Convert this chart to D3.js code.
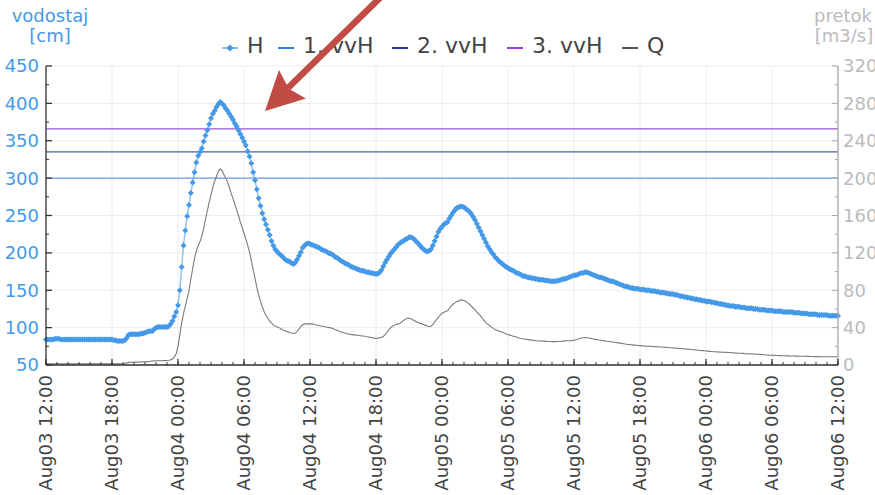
<!DOCTYPE html>
<html><head><meta charset="utf-8">
<script src="https://cdn.jsdelivr.net/npm/d3@7"></script>
<style>
html,body{margin:0;padding:0;background:#fff;}
svg{display:block;font-family:"DejaVu Sans",sans-serif;}
</style></head>
<body>
<svg id="chart" width="875" height="495"></svg>
<script>
// ---- data ----
const startTime = "2023-08-03T12:00";
const stepMinutes = 10;
const seriesNames = ["H", "1. vvH", "2. vvH", "3. vvH", "Q"];
const vvHLevels = [300, 335, 366];
const leftTicks = [50,100,150,200,250,300,350,400,450];
const rightTicks = [0,40,80,120,160,200,240,280,320];
const leftTitle = ["vodostaj", "[cm]"];
const rightTitle = ["pretok", "[m3/s]"];
// water level H [cm], every 10 min (one row = one hour)
const H = [
84,84,84,84,84,85, 85,85,84,84,84,84, 84,84,84,84,84,84, 84,84,84,84,84,84,
84,84,84,84,84,84, 84,84,84,84,84,84, 84,83,83,82,82,82, 82,83,86,90,91,91,
91,91,91,91,92,92, 93,94,95,95,95,98, 100,101,101,101,101,101, 101,102,105,109,115,121,
130,150,181,210,230,249, 264,280,294,308,321,330, 335,340,349,357,364,372, 380,386,390,395,399,402,
400,397,393,390,386,382, 378,373,369,364,359,354, 349,344,336,329,320,308, 297,285,273,263,253,245,
238,231,224,216,210,205, 202,199,197,195,192,190, 189,188,186,185,187,191, 196,201,207,210,212,213,
212,211,210,209,208,207, 205,204,203,202,200,199, 198,196,194,193,191,189, 188,186,185,184,182,181,
180,179,178,177,176,176, 175,174,174,173,173,172, 172,172,174,177,182,187, 191,195,199,202,205,208,
211,213,215,216,218,219, 221,221,220,218,215,213, 210,207,205,203,202,203, 205,210,216,222,228,232,
235,238,240,241,246,250, 254,257,260,261,262,262, 261,259,257,255,252,248, 244,239,234,229,224,219,
214,209,205,201,198,194, 192,189,187,185,183,181, 180,178,177,176,174,173, 172,171,169,169,168,167,
167,166,166,165,165,164, 164,164,163,163,163,162, 162,162,162,163,163,164, 165,165,166,167,168,169,
170,170,171,172,173,173, 174,174,173,172,171,170, 169,168,167,167,166,165, 164,163,162,162,161,160,
159,158,157,156,155,155, 154,153,153,152,152,152, 151,151,151,150,150,150, 149,149,149,148,148,147,
147,147,146,146,145,145, 145,144,144,143,142,142, 141,141,140,140,139,139, 138,138,137,137,136,136,
135,135,135,134,134,133, 133,132,132,131,131,130, 130,129,129,129,128,128, 128,127,127,127,126,126,
126,126,125,125,125,124, 124,124,124,123,123,123, 123,122,122,122,122,122, 121,121,121,121,121,121,
120,120,120,120,119,119, 119,119,118,118,118,118, 118,117,117,117,117,117, 117,116,116,116,116,116,
116];
// discharge Q [m3/s], every 10 min
const Q = [
1.2,1.2,1.2,1.2,1.2,1.2, 1.2,1.2,1.2,1.2,1.2,1.2, 1.2,1.2,1.2,1.2,1.2,1.2, 1.2,1.2,1.2,1.2,1.2,1.2,
1.2,1.2,1.2,1.2,1.2,1.2, 1.2,1.2,1.2,1.2,1.2,1.2, 1.2,1.2,1.2,1.2,1.2,1.2, 1.2,1.5,2.2,2.8,3.0,3.0,
3.0,3.1,3.1,3.2,3.3,3.4, 3.5,3.6,3.8,4.0,4.2,4.4, 4.5,4.6,4.6,4.6,4.7,4.7, 4.8,5.0,5.5,6.5,8.5,12,
20,32,45,55,63,71, 80,92,103,114,122,128, 132,138,146,156,165,174, 182,190,197,202,207,210,
208,204,200,196,190,184, 178,172,166,160,153,147, 141,135,128,121,112,102, 93,83,75,68,62,57,
53,50,47,45,43,41.5, 41,40,39,37.8,37,36, 35.5,34.8,34.2,33.9,34.2,36, 38.5,41,43,44,44,44,
44,44,43.8,43,42.6,42.2, 41.8,41.4,41,40.6,40.2,40, 39.4,38.6,37.8,37,36,35.4, 34.8,34.2,33.7,33.2,32.8,32.5,
32.2,32,31.8,31.5,31.2,31, 30.7,30.3,30,29.6,29.2,28.8, 28.5,28.6,29,29.6,30.5,32.5, 35,38,40,41.5,42.5,43.5,
44,44.8,46,47.5,49,50, 50.2,49.5,48.4,47.4,46.4,45.4, 44.6,44,43.2,42.4,41.8,41.2, 41.5,43.5,46,48.5,51,53.5,
55.5,56.5,57.3,58,60.5,63, 65,66.5,67.7,68.6,69.4,69.6, 69,68,66.5,65,63,61, 59,56.5,54.5,52.5,50,47.5,
45,43.5,42,40.5,39.2,38, 37.2,36.5,35.8,35,34.2,33.2, 32.6,32,31.4,30.8,30.2,29.6, 28.8,28.4,28.1,27.8,27.5,27.2,
26.9,26.6,26.4,26.1,26,25.8, 25.7,25.6,25.5,25.3,25.2,25.1, 25,25,25,25.1,25.2,25.4, 25.6,25.8,25.9,26,26.1,26.3,
26.6,27,27.6,28.3,28.9,29.2, 29.3,29.2,28.9,28.5,28.1,27.7, 27.4,27.1,26.8,26.5,26.1,25.8, 25.5,25.2,24.9,24.6,24.3,24,
23.7,23.4,23.1,22.8,22.4,22.1, 21.9,21.7,21.5,21.3,21.1,20.9, 20.7,20.5,20.3,20.2,20.1,20, 19.9,19.8,19.7,19.6,19.5,19.3,
19.2,19,18.9,18.7,18.5,18.4, 18.2,18.1,17.9,17.8,17.6,17.4, 17.3,17.1,17,16.8,16.6,16.4, 16.2,16,15.8,15.6,15.4,15.2,
15,14.8,14.6,14.4,14.2,14.1, 14,13.9,13.8,13.7,13.6,13.5, 13.4,13.3,13.1,13,12.9,12.7, 12.6,12.5,12.4,12.2,12.1,12,
11.9,11.8,11.7,11.6,11.5,11.4, 11.2,11,10.9,10.7,10.6,10.5, 10.4,10.3,10.2,10.1,10,10, 9.9,9.9,9.8,9.8,9.7,9.6,
9.6,9.5,9.5,9.4,9.4,9.3, 9.3,9.2,9.2,9.1,9.1,9, 9,9,8.9,8.9,8.9,8.9, 8.9,8.9,8.9,8.9,8.9,8.9,
8.9];

// ---- layout ----
const m = {left:46, right:838, top:66, bottom:365};
const colH = "#4499e8", colQ = "#7a7a7a";
const vvColors = ["#6f9be9", "#4d5fa8", "#9a55cf"];
const vvLegend = ["#3a7cee", "#2639a6", "#9b3be3"];

const t0 = d3.isoParse(startTime);
const times = H.map((_, i) => d3.timeMinute.offset(t0, i * stepMinutes));
const x = d3.scaleTime().domain([times[0], times[times.length-1]]).range([m.left, m.right]);
const yL = d3.scaleLinear().domain([50, 450]).range([m.bottom, m.top]);
const yR = d3.scaleLinear().domain([0, 320]).range([m.bottom, m.top]);

const svg = d3.select("#chart");

// grid
const g = svg.append("g");
const xMajor = x.ticks(d3.timeHour.every(6));
g.selectAll(".vg").data(xMajor).join("line")
  .attr("x1", d => x(d)).attr("x2", d => x(d)).attr("y1", m.top).attr("y2", m.bottom)
  .attr("stroke", "#ececec").attr("stroke-width", 1);
g.selectAll(".hg").data(leftTicks).join("line")
  .attr("x1", m.left).attr("x2", m.right).attr("y1", d => yL(d)).attr("y2", d => yL(d))
  .attr("stroke", "#ececec").attr("stroke-width", 1);

// threshold lines
vvHLevels.forEach((v, k) => {
  svg.append("line").attr("x1", m.left).attr("x2", m.right)
    .attr("y1", yL(v)).attr("y2", yL(v))
    .attr("stroke", vvColors[k]).attr("stroke-width", 1.3);
});

// Q line
svg.append("path").datum(Q)
  .attr("fill", "none").attr("stroke", colQ).attr("stroke-width", 1.1)
  .attr("d", d3.line().x((d, i) => x(times[i])).y(d => yR(d)));

// H line + markers
svg.append("path").datum(H)
  .attr("fill", "none").attr("stroke", colH).attr("stroke-opacity", 0.6).attr("stroke-width", 1.5)
  .attr("d", d3.line().x((d, i) => x(times[i])).y(d => yL(d)));
const dm = 3;
const diamond = `M0,${-dm}L${dm},0L0,${dm}L${-dm},0Z`;
svg.append("g").selectAll("path").data(H).join("path")
  .attr("d", diamond)
  .attr("transform", (d, i) => `translate(${x(times[i])},${yL(d)})`)
  .attr("fill", colH);

// axes
const axisCol = "#333";
// left
const la = svg.append("g");
la.append("line").attr("x1", m.left).attr("x2", m.left).attr("y1", m.top).attr("y2", m.bottom).attr("stroke", axisCol).attr("stroke-width", 1.3);
la.selectAll(".t").data(leftTicks).join("line")
  .attr("x1", m.left).attr("x2", m.left + 6).attr("y1", d => yL(d)).attr("y2", d => yL(d)).attr("stroke", axisCol).attr("stroke-width", 1.3);
la.selectAll(".mt").data(d3.range(75, 450, 50)).join("line")
  .attr("x1", m.left).attr("x2", m.left + 3).attr("y1", d => yL(d)).attr("y2", d => yL(d)).attr("stroke", axisCol).attr("stroke-width", 1);
la.selectAll("text").data(leftTicks).join("text")
  .attr("x", m.left - 7).attr("y", d => yL(d)).attr("dy", "0.36em")
  .attr("text-anchor", "end").attr("font-size", 18).attr("fill", colH).text(d => d);

// right
const ra = svg.append("g");
const rCol = "#aaa";
ra.append("line").attr("x1", m.right).attr("x2", m.right).attr("y1", m.top).attr("y2", m.bottom).attr("stroke", rCol).attr("stroke-width", 1.3);
ra.selectAll(".t").data(rightTicks).join("line")
  .attr("x1", m.right).attr("x2", m.right - 6).attr("y1", d => yR(d)).attr("y2", d => yR(d)).attr("stroke", rCol);
ra.selectAll(".mt").data(d3.range(20, 320, 40)).join("line")
  .attr("x1", m.right).attr("x2", m.right - 3).attr("y1", d => yR(d)).attr("y2", d => yR(d)).attr("stroke", rCol);
ra.selectAll("text").data(rightTicks).join("text")
  .attr("x", m.right + 5).attr("y", d => yR(d)).attr("dy", "0.36em")
  .attr("text-anchor", "start").attr("font-size", 18).attr("fill", "#bbb").text(d => d);

// bottom
const ba = svg.append("g");
ba.append("line").attr("x1", m.left).attr("x2", m.right).attr("y1", m.bottom).attr("y2", m.bottom).attr("stroke", axisCol).attr("stroke-width", 1.3);
const xMinor = x.ticks(d3.timeHour.every(1));
ba.selectAll(".mt").data(xMinor).join("line")
  .attr("x1", d => x(d)).attr("x2", d => x(d)).attr("y1", m.bottom).attr("y2", m.bottom - 3).attr("stroke", axisCol);
ba.selectAll(".t").data(xMajor).join("line")
  .attr("x1", d => x(d)).attr("x2", d => x(d)).attr("y1", m.bottom).attr("y2", m.bottom - 6).attr("stroke", axisCol).attr("stroke-width", 1.3);
const fmt = d3.timeFormat("%b%d %H:%M");
ba.selectAll("text").data(xMajor).join("text")
  .attr("transform", d => `translate(${x(d)},${m.bottom + 10}) rotate(-90)`)
  .attr("dy", "0.36em").attr("text-anchor", "end")
  .attr("font-size", 18).attr("fill", "#444").text(d => fmt(d));

// axis titles
svg.append("text").attr("x", 50).attr("y", 22).attr("text-anchor", "middle").attr("font-size", 18).attr("fill", colH).text(leftTitle[0]);
svg.append("text").attr("x", 50).attr("y", 42).attr("text-anchor", "middle").attr("font-size", 18).attr("fill", colH).text(leftTitle[1]);
svg.append("text").attr("x", 843).attr("y", 22).attr("text-anchor", "middle").attr("font-size", 18).attr("fill", "#bbb").text(rightTitle[0]);
svg.append("text").attr("x", 844).attr("y", 42).attr("text-anchor", "middle").attr("font-size", 18).attr("fill", "#bbb").text(rightTitle[1]);

// legend
const legendX = [222, 278, 392, 507, 622];
const legendCols = [colH, vvLegend[0], vvLegend[1], vvLegend[2], "#555"];
const lg = svg.append("g");
seriesNames.forEach((name, k) => {
  const lx = legendX[k];
  lg.append("line").attr("x1", lx).attr("x2", lx + 16).attr("y1", 48).attr("y2", 48)
    .attr("stroke", legendCols[k]).attr("stroke-width", k === 0 ? 1.3 : 2);
  if (k === 0) lg.append("path").attr("d", "M0,-3.5L3.5,0L0,3.5L-3.5,0Z").attr("transform", `translate(${lx + 8},48)`).attr("fill", colH);
  lg.append("text").attr("x", lx + 25).attr("y", 53).attr("font-size", 22).attr("fill", "#444").text(name);
});

// annotation arrow
const arrowCol = "#c14b45";
svg.append("line").attr("x1", 390).attr("y1", -12).attr("x2", 288).attr("y2", 88)
  .attr("stroke", arrowCol).attr("stroke-width", 6.5);
svg.append("path").attr("d", "M265,111L279,70L289,89L306,98.5Z").attr("fill", arrowCol);
</script>
</body></html>
